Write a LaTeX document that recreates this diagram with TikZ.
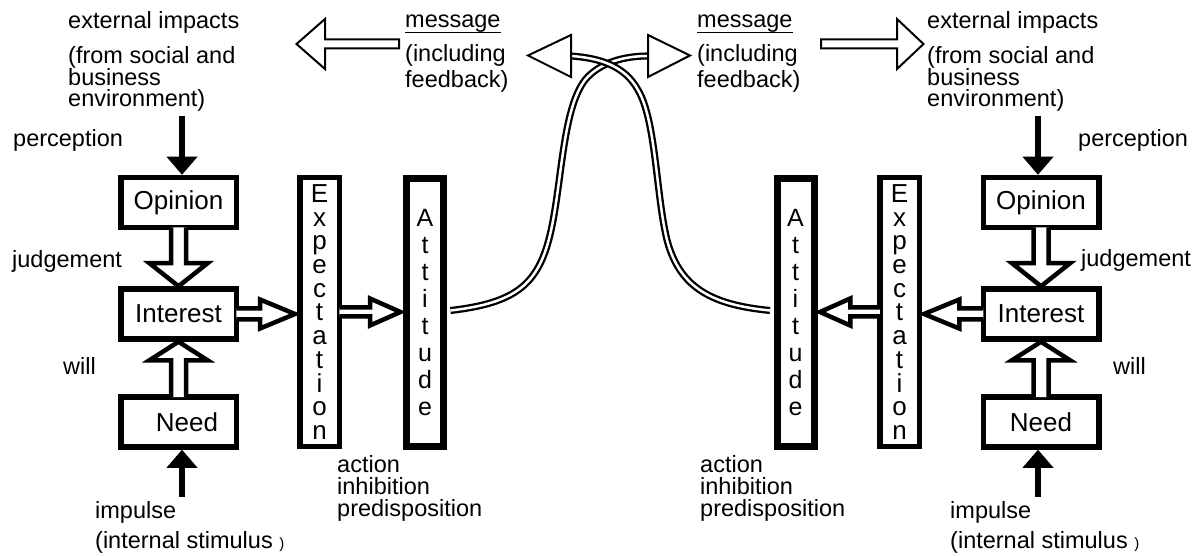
\documentclass[tikz,border=0pt]{standalone}
\usepackage{fontspec}
\setmainfont{Liberation Sans}
\usetikzlibrary{arrows.meta,calc}
\newcommand\lblfont{\fontsize{23.5}{21}\selectfont}
\newcommand\boxfont{\fontsize{26}{26}\selectfont}
\newsavebox\ulbox
\newcommand\myul[1]{\sbox\ulbox{#1}\rlap{\rule[-5.5pt]{\wd\ulbox}{1.8pt}}\usebox\ulbox}
% hollow block arrow: start, rotation, inset, shaft half, head base, head half, tip
\newcommand\blockarrow[7]{%
  \begin{scope}[shift={(#1)},rotate=#2]
    \fill[white] (-#3,-#4) -- (#5,-#4) -- (#5,-#6) -- (#7,0) -- (#5,#6) -- (#5,#4) -- (-#3,#4) -- cycle;
    \draw[blockstroke] (-#3,-#4) -- (#5,-#4) -- (#5,-#6) -- (#7,0) -- (#5,#6) -- (#5,#4) -- (-#3,#4);
  \end{scope}}
\begin{document}
\begin{tikzpicture}[x=1pt,y=-1pt,
  box/.style={draw, fill=white, line width=5.5pt, minimum width=115.5pt, minimum height=50pt, inner sep=0pt, font=\boxfont},
  tallbox/.style={draw, fill=white, line width=5.5pt, minimum width=39.5pt, minimum height=268.5pt, inner sep=0pt, align=center, font=\fontsize{26}{23.7}\selectfont},
  attbox/.style={draw, fill=white, line width=7pt, minimum width=37pt, minimum height=268pt, inner sep=0pt, align=center, font=\fontsize{25}{27}\selectfont},
  lbl/.style={inner sep=0pt, anchor=base west, align=left, font=\lblfont},
  blockstroke/.style={draw=black, line width=4.5pt, line join=miter},
  thinarrow/.style={draw=black, fill=white, line width=2pt, line join=miter},
  msgline/.style={draw=black, double=white, line width=2.3pt, double distance=2.5pt},
  solidarrow/.style={line width=6pt, -{Triangle[width=31pt,length=18pt,line width=0pt]}}]
\useasboundingbox (0,0) rectangle (1203,556);

% ---------- boxes ----------
\node[box] (opL) at (178.5,202.5) {Opinion};
\node[box] (inL) at (178.5,314) {Interest};
\node[box] (neL) at (178.5,422) {\hspace*{17pt}Need};
\node[tallbox] (exL) at (319.5,312) {E\\x\\p\\e\\c\\t\\a\\t\\i\\o\\n};
\node[attbox] (atL) at (425,312.5) {A\\t\\t\\i\\t\\u\\d\\e};

\node[box] (opR) at (1041,202.5) {Opinion};
\node[box] (inR) at (1041,314) {Interest};
\node[box] (neR) at (1041,422) {Need};
\node[tallbox] (exR) at (899.5,312) {E\\x\\p\\e\\c\\t\\a\\t\\i\\o\\n};
\node[attbox] (atR) at (795.5,312.5) {A\\t\\t\\i\\t\\u\\d\\e};

% ---------- hollow block arrows ----------
\blockarrow{opL.south}{-90}{2.75}{7.5}{33}{29}{56}
\blockarrow{neL.north}{90}{2.75}{7.5}{34}{29}{52.5}
\blockarrow{inL.east}{0}{2.75}{5.5}{21}{14.5}{56}
\blockarrow{exL.east}{0}{2.75}{4.5}{28}{13.5}{58.5}

\blockarrow{opR.south}{-90}{2.75}{7.5}{33}{29}{56}
\blockarrow{neR.north}{90}{2.75}{7.5}{34}{29}{52.5}
\blockarrow{inR.west}{180}{2.75}{5.5}{21.25}{14.5}{56.5}
\blockarrow{exR.west}{180}{2.75}{4.5}{26.75}{13.5}{57}

% ---------- solid arrows ----------
\coordinate (pL) at (182,116);
\coordinate (iL) at (182,497);
\coordinate (pR) at (1038,116);
\coordinate (iR) at (1038,497);
\draw[solidarrow] (pL) -- (pL |- opL.north);
\draw[solidarrow] (iL) -- (iL |- neL.south);
\draw[solidarrow] (pR) -- (pR |- opR.north);
\draw[solidarrow] (iR) -- (iR |- neR.south);

% ---------- message curves ----------
\coordinate (mhL) at (571,56);
\coordinate (mhR) at (648,56);
\draw[msgline] ([xshift=3.5pt,yshift=2pt]atL.east) .. controls (515,303) and (538,285) .. (550,235)
   .. controls (562,185) and (562,110) .. (585,80) .. controls (600,62) and (625,56) .. (mhR);
\draw[msgline] ([xshift=-3.5pt,yshift=2pt]atR.west) .. controls (715,305) and (680,290) .. (667,240)
   .. controls (656,195) and (656,120) .. (638,90) .. controls (625,66) and (600,58) .. (mhL);
\draw[thinarrow] (571,35) -- (528,55.5) -- (571,77) -- cycle;
\draw[thinarrow] (648,35) -- (690,55.5) -- (648,77) -- cycle;

% ---------- top external arrows ----------
\draw[thinarrow] (399,39.5) -- (325,39.5) -- (325,19) -- (296.5,44) -- (325,69) -- (325,48.5) -- (399,48.5) -- cycle;
\draw[thinarrow] (821,39.5) -- (897,39.5) -- (897,19) -- (923.5,44) -- (897,69) -- (897,48.5) -- (821,48.5) -- cycle;

% ---------- labels left ----------
\node[lbl] (extL) at (68,29) {external impacts};
\node[lbl] (envL) at (68,107) {(from social and\\business\\environment)};
\node[lbl] (percL) at (13,147) {perception};
\node[lbl] (judgL) at (12,268) {judgement};
\node[lbl] (willL) at (63,374) {will};
\node[lbl] (impL) at (95,518) {impulse};
\node[lbl] (stimL) at (95,548) {(internal stimulus {\fontsize{15}{15}\selectfont)}};
\node[lbl, font=\fontsize{23.5}{22}\selectfont] (actL) at (337,516) {action\\inhibition\\predisposition};
\node[lbl] (msgL) at (405,28) {\myul{message}};
\node[lbl, font=\fontsize{23.5}{26}\selectfont] (incL) at (405,88) {(including\\feedback)};

% ---------- labels right ----------
\node[lbl] (extR) at (927,29) {external impacts};
\node[lbl] (envR) at (927,107) {(from social and\\business\\environment)};
\node[lbl] (percR) at (1078,147) {perception};
\node[lbl] (judgR) at (1081,267) {judgement};
\node[lbl] (willR) at (1113,374) {will};
\node[lbl] (impR) at (950,518) {impulse};
\node[lbl] (stimR) at (950,548) {(internal stimulus {\fontsize{15}{15}\selectfont)}};
\node[lbl, font=\fontsize{23.5}{22}\selectfont] (actR) at (700,516) {action\\inhibition\\predisposition};
\node[lbl] (msgR) at (697,28) {\myul{message}};
\node[lbl, font=\fontsize{23.5}{26}\selectfont] (incR) at (697,88) {(including\\feedback)};
\end{tikzpicture}
\end{document}
